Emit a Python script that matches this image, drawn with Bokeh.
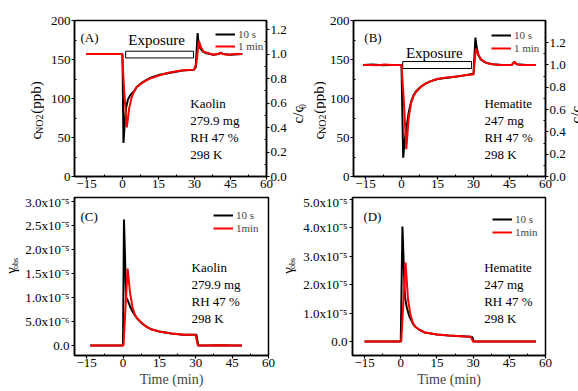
from math import pi
from bokeh.plotting import figure
from bokeh.models import (Range1d, LinearAxis, FixedTicker, Label, Legend, LegendItem,
                          PrintfTickFormatter, CustomJSTickFormatter)
from bokeh.layouts import column, row
from bokeh.embed import file_html
from bokeh.resources import INLINE

FONT = "Liberation Serif"

# ---------------- data ----------------
X_TICKS = [-15, 0, 15, 30, 45, 60]
PPB_TICKS = [0, 50, 100, 150, 200]
RATIO_TICKS = [0.0, 0.2, 0.4, 0.6, 0.8, 1.0, 1.2]

# Panel A: Kaolin, c_NO2 (ppb)
A_t_10s = [-15, -10, -5, -1, 0, 0.4, 1.0, 1.5, 2.2, 3, 4, 5, 6, 8, 10, 12, 15, 20, 25, 29.8,
           30.5, 31.3, 31.7, 32.3, 32.8, 33.5, 35, 38, 40, 41, 42, 45, 50]
A_c_10s = [157, 157, 157, 157, 157, 43, 72, 88, 98, 103, 107, 110, 115, 120, 124, 127, 130, 133, 136, 137,
           140, 184, 170, 165, 163, 160, 158, 156, 157, 159, 157, 156, 157]
A_t_1min = [-15.2, -12.2, -9.2, -6.2, -3.2, -0.2, 0.8, 1.8, 2.8, 3.8, 4.8, 5.8, 7.8, 9.8, 11.8, 14.8,
            17.8, 20.8, 23.8, 26.8, 29.8, 30.8, 31.8, 32.8, 33.8, 35.8, 37.8, 39.8, 40.8, 41.8, 43.8,
            46.8, 49.8]
A_c_1min = [157, 157, 157, 157, 157, 157, 105, 63, 88, 101, 109, 114, 119, 123, 126, 129,
            132, 134, 135.5, 136.5, 137, 145, 174, 165, 160, 158, 156, 157, 158.5, 157, 156,
            157, 157]
A_c0 = 157
A_info = ["Kaolin", "279.9 mg", "RH 47 %", "298 K"]

# Panel B: Hematite, c_NO2 (ppb)
B_t_10s = [-16, -12, -8, -4, -1, 0, 0.7, 1.3, 2.2, 3, 4, 5, 6, 8, 10, 12, 15, 20, 25, 29, 30,
           30.8, 31.3, 32, 33, 35, 38, 42, 46, 47, 48, 52, 56]
B_c_10s = [143, 143.5, 142.5, 143, 143, 143, 24, 45, 65, 82, 96, 104, 109, 115, 119, 122, 125, 127, 129, 131, 131,
           178, 166, 156, 150, 146, 144, 143, 143, 147, 144, 143, 143]
B_t_1min = [-16, -13, -10, -7, -4, -1, 0, 1, 2, 3, 4, 5, 6, 8, 10, 12, 15, 18, 21, 24, 27, 30,
            31, 32, 33, 34, 36, 38, 41, 44, 46, 47, 48, 50, 53, 56]
B_c_1min = [143, 143, 142.5, 143.5, 143, 143, 143, 95, 35, 75, 94, 103, 108, 115, 119, 122, 125, 126.5, 127.5, 128.5, 130, 131,
            164, 156, 151, 148, 145, 144, 143, 143, 143, 147, 144, 143, 143, 143]
B_c0 = 143
B_info = ["Hematite", "247 mg", "RH 47 %", "298 K"]

# Panel C: Kaolin, gamma_obs
C_t_10s = [-13.5, -10, -5, -1, 0, 0.4, 1.3, 2, 3, 4, 5, 6, 8, 10, 12, 15, 20, 25, 29.5, 30.3,
           31, 35, 40, 45, 49]
C_g_10s = [0, 0, 0, 0, 0, 2.62e-5, 1.0e-5, 0.93e-5, 0.8e-5, 0.7e-5, 0.62e-5, 0.55e-5, 0.45e-5, 0.38e-5,
           0.33e-5, 0.29e-5, 0.25e-5, 0.22e-5, 0.22e-5, 0.22e-5, 0.0, 0.0, 0.005e-5, 0.0, 0.0]
C_t_1min = [-13.5, -10, -5, -1, 0.2, 1.9, 2.9, 3.9, 4.9, 5.9, 7.9, 9.9, 11.9, 14.9, 19.9, 24.9,
            29.9, 30.9, 35, 40, 45, 49]
C_g_1min = [0, 0, 0, 0, 0, 1.6e-5, 1.1e-5, 0.8e-5, 0.64e-5, 0.56e-5, 0.46e-5, 0.38e-5, 0.33e-5,
            0.29e-5, 0.25e-5, 0.22e-5, 0.22e-5, 0.0, 0.0, 0.005e-5, 0.0, 0.0]
C_tick_vals = [0.0, 0.5e-5, 1.0e-5, 1.5e-5, 2.0e-5, 2.5e-5, 3.0e-5]
C_tick_text = ["0.0", "5.0x10\u207b\u2076", "1.0x10\u207b\u2075", "1.5x10\u207b\u2075",
               "2.0x10\u207b\u2075", "2.5x10\u207b\u2075", "3.0x10\u207b\u2075"]
C_info = ["Kaolin", "279.9 mg", "RH 47 %", "298 K"]

# Panel D: Hematite, gamma_obs
D_t_10s = [-15, -10, -5, -1, 0, 0.7, 1.7, 2.5, 3.5, 5, 6, 8, 10, 15, 20, 25, 29, 29.7, 30.2,
           35, 40, 45, 50, 56]
D_g_10s = [0, 0, 0, 0, 0, 4.05e-5, 1.6e-5, 1.2e-5, 0.9e-5, 0.64e-5, 0.52e-5, 0.4e-5, 0.32e-5,
           0.25e-5, 0.21e-5, 0.19e-5, 0.17e-5, 0.15e-5, 0.0, 0, 0, 0, 0, 0]
D_t_1min = [-15, -10, -5, -1, 0.2, 2.0, 3.0, 4.0, 5.0, 6.0, 8.0, 10, 15, 20, 25, 29, 30,
            35, 40, 45, 50, 56]
D_g_1min = [0, 0, 0, 0, 0, 2.78e-5, 1.5e-5, 0.95e-5, 0.66e-5, 0.52e-5, 0.4e-5, 0.32e-5, 0.25e-5,
            0.21e-5, 0.19e-5, 0.17e-5, 0.0, 0, 0, 0, 0, 0]
D_tick_vals = [0.0, 1.0e-5, 2.0e-5, 3.0e-5, 4.0e-5, 5.0e-5]
D_tick_text = ["0.0", "1.0x10\u207b\u2075", "2.0x10\u207b\u2075", "3.0x10\u207b\u2075",
               "4.0x10\u207b\u2075", "5.0x10\u207b\u2075"]
D_info = ["Hematite", "247 mg", "RH 47 %", "298 K"]

# ---------------- layout geometry (page pixels) ----------------
XR = (-20, 60)
TOP_H, BOT_H = 194, 197


def style_axis(ax, standoff=1):
    ax.axis_line_width = 1.5
    ax.major_tick_line_width = 1.2
    ax.major_tick_out = 3
    ax.major_tick_in = 0
    ax.minor_tick_in = 2
    ax.minor_tick_out = 0
    ax.major_label_standoff = standoff
    ax.major_label_text_font = FONT
    ax.major_label_text_font_size = "13px"
    ax.major_label_text_color = "black"


def make_fig(width, height, bl, br, bt, bb, yr):
    p = figure(width=width, height=height, x_range=Range1d(*XR), y_range=Range1d(*yr),
               output_backend="svg", toolbar_location=None,
               min_border_left=bl, min_border_right=br, min_border_top=bt, min_border_bottom=bb)
    p.grid.visible = False
    p.outline_line_color = "black"
    p.outline_line_width = 1.5
    p.background_fill_color = "white"
    p.border_fill_color = "white"
    style_axis(p.xaxis[0], 0)
    style_axis(p.yaxis[0], 1)
    p.xaxis.ticker = FixedTicker(ticks=X_TICKS, minor_ticks=[-7.5, 7.5, 22.5, 37.5, 52.5])
    return p


def text_fig(width, height):
    p = figure(width=width, height=height, x_range=Range1d(0, width), y_range=Range1d(0, height),
               output_backend="svg", toolbar_location=None, min_border=0,
               x_axis_location=None, y_axis_location=None)
    p.grid.visible = False
    p.outline_line_color = None
    p.background_fill_color = "white"
    p.border_fill_color = "white"
    return p


def tlab(p, x0, y0, px, py, text, size):
    # rotated (reads bottom to top); px is the centre of the text line, py its lower start
    p.add_layout(Label(x=px - x0, y=p.height - (py - y0), text=text, text_font=FONT,
                       text_font_size=f"{size}px", text_align="left", text_baseline="middle",
                       angle=pi / 2, text_color="black"))


def to_data(g, px, py):
    left, top, w, h, yr = g
    x = XR[0] + (px - left) / w * (XR[1] - XR[0])
    y = yr[1] - (py - top) / h * (yr[1] - yr[0])
    return x, y


def lab(p, g, px, py, text, size, align="left", baseline="middle"):
    x, y = to_data(g, px, py)
    p.add_layout(Label(x=x, y=y, text=text, text_font=FONT, text_font_size=f"{size}px",
                       text_align=align, text_baseline=baseline, text_color="black"))


def add_lines(p, t1, y1, t2, y2, labels, g, leg_left, leg_top, spacing=1):
    rb = p.line(t1, y1, color="black", line_width=2)
    rr = p.line(t2, y2, color="red", line_width=2)
    left, top, w, h, yr = g
    leg = Legend(items=[LegendItem(label=labels[0], renderers=[rb]),
                        LegendItem(label=labels[1], renderers=[rr])],
                 location=(leg_left - left, top + h - (leg_top + 26)),
                 padding=0, margin=0, spacing=spacing, glyph_width=20, glyph_height=12,
                 label_height=12, label_standoff=3,
                 label_text_font=FONT, label_text_font_size="11px",
                 background_fill_alpha=0, border_line_alpha=0)
    p.add_layout(leg)


def add_right_ratio(p, c0):
    p.extra_y_ranges = {"r": Range1d(0, 200 / c0)}
    ax = LinearAxis(y_range_name="r",
                    ticker=FixedTicker(ticks=RATIO_TICKS, minor_ticks=[0.1, 0.3, 0.5, 0.7, 0.9, 1.1]),
                    formatter=PrintfTickFormatter(format="%.1f"))
    style_axis(ax, 1)
    p.add_layout(ax, "right")


def info(p, g, px, lines, py0):
    for i, s in enumerate(lines):
        lab(p, g, px, py0 + 17 * i, s, 13)


def exposure(p, g, box, tx, ty):
    p.quad(left=box[0], right=box[1], bottom=box[2], top=box[3], fill_color=None,
           line_color="black", line_width=1)
    lab(p, g, tx, ty, "Exposure", 15, align="center")


def cno2_label(p, x0, y0, xc):
    tlab(p, x0, y0, xc, 148, "c", 15)
    tlab(p, x0, y0, xc + 3, 141, "NO2", 10)
    tlab(p, x0, y0, xc, 116, "(ppb)", 15)


def gamma_label(p, x0, y0, xc):
    tlab(p, x0, y0, xc, 289, "\u03b3", 15)
    tlab(p, x0, y0, xc + 4.5, 283, "obs", 8)


def gamma_axis(p, vals, texts):
    p.yaxis.ticker = FixedTicker(ticks=vals)
    p.yaxis.formatter = CustomJSTickFormatter(args=dict(labels=texts), code="return labels[index];")
    p.yaxis.major_label_standoff = 2


def time_label(p):
    p.xaxis.axis_label = "Time (min)"
    p.xaxis.axis_label_text_font = FONT
    p.xaxis.axis_label_text_font_size = "14px"
    p.xaxis.axis_label_text_font_style = "normal"
    p.xaxis.axis_label_standoff = 2


# ---------------- top row ----------------
tL = text_fig(44, TOP_H)
cno2_label(tL, 0, 0, 35.5)

A_yr = (0, 200)
pA = make_fig(245, TOP_H, 30, 21, 20, 18, A_yr)
gA = (74, 20, 194, 156, A_yr)
pA.yaxis.ticker = FixedTicker(ticks=PPB_TICKS, minor_ticks=[25, 75, 125, 175])
add_right_ratio(pA, A_c0)
exposure(pA, gA, (1.3, 29.6, 152, 160.6), 157, 39)
add_lines(pA, A_t_10s, A_c_10s, A_t_1min, A_c_1min, ["10 s", "1 min"], gA, 215, 26, spacing=-2)
lab(pA, gA, 80, 37, "(A)", 13)
info(pA, gA, 191, A_info, 103)

tM = text_fig(37, TOP_H)
tlab(tM, 289, 0, 297.5, 128, "c/c", 15)
tlab(tM, 289, 0, 302, 110, "0", 10)
cno2_label(tM, 289, 0, 318.5)

B_yr = (0, 200)
pB = make_fig(244, TOP_H, 24, 25, 20, 18, B_yr)
gB = (350, 20, 195, 156, B_yr)
pB.yaxis.ticker = FixedTicker(ticks=PPB_TICKS, minor_ticks=[25, 75, 125, 175])
add_right_ratio(pB, B_c0)
exposure(pB, gB, (0.5, 29.2, 138.5, 147.4), 432, 52)
add_lines(pB, B_t_10s, B_c_10s, B_t_1min, B_c_1min, ["10 s", "1 min"], gB, 488, 28)
lab(pB, gB, 361, 37, "(B)", 13)
info(pB, gB, 483, B_info, 103)

tR = text_fig(8, TOP_H)
tlab(tR, 570, 0, 575, 128, "c/c", 15)

# ---------------- bottom row ----------------
Y0 = TOP_H
bL = text_fig(20, BOT_H)
gamma_label(bL, 0, Y0, 10.5)

C_yr = (-0.21e-5, 3.08e-5)
pC = make_fig(258, BOT_H, 54, 10, 3, 36, C_yr)
gC = (74, 197, 194, 158, C_yr)
gamma_axis(pC, C_tick_vals, C_tick_text)
time_label(pC)
add_lines(pC, C_t_10s, C_g_10s, C_t_1min, C_g_1min, ["10 s", "1min"], gC, 213, 208)
lab(pC, gC, 80, 216, "(C)", 13)
info(pC, gC, 191, C_info, 267)

bM = text_fig(22, BOT_H)
gamma_label(bM, 278, Y0, 287.5)

D_yr = (-0.49e-5, 5.07e-5)
pD = make_fig(278, BOT_H, 50, 33, 3, 36, D_yr)
gD = (350, 197, 195, 158, D_yr)
gamma_axis(pD, D_tick_vals, D_tick_text)
time_label(pD)
add_lines(pD, D_t_10s, D_g_10s, D_t_1min, D_g_1min, ["10 s", "1min"], gD, 490, 212)
lab(pD, gD, 361, 216, "(D)", 13)
info(pD, gD, 483, D_info, 267)

layout = column(row(tL, pA, tM, pB, tR, spacing=0),
                row(bL, pC, bM, pD, spacing=0), spacing=0)
open("out.html", "w").write(file_html(layout, INLINE))
